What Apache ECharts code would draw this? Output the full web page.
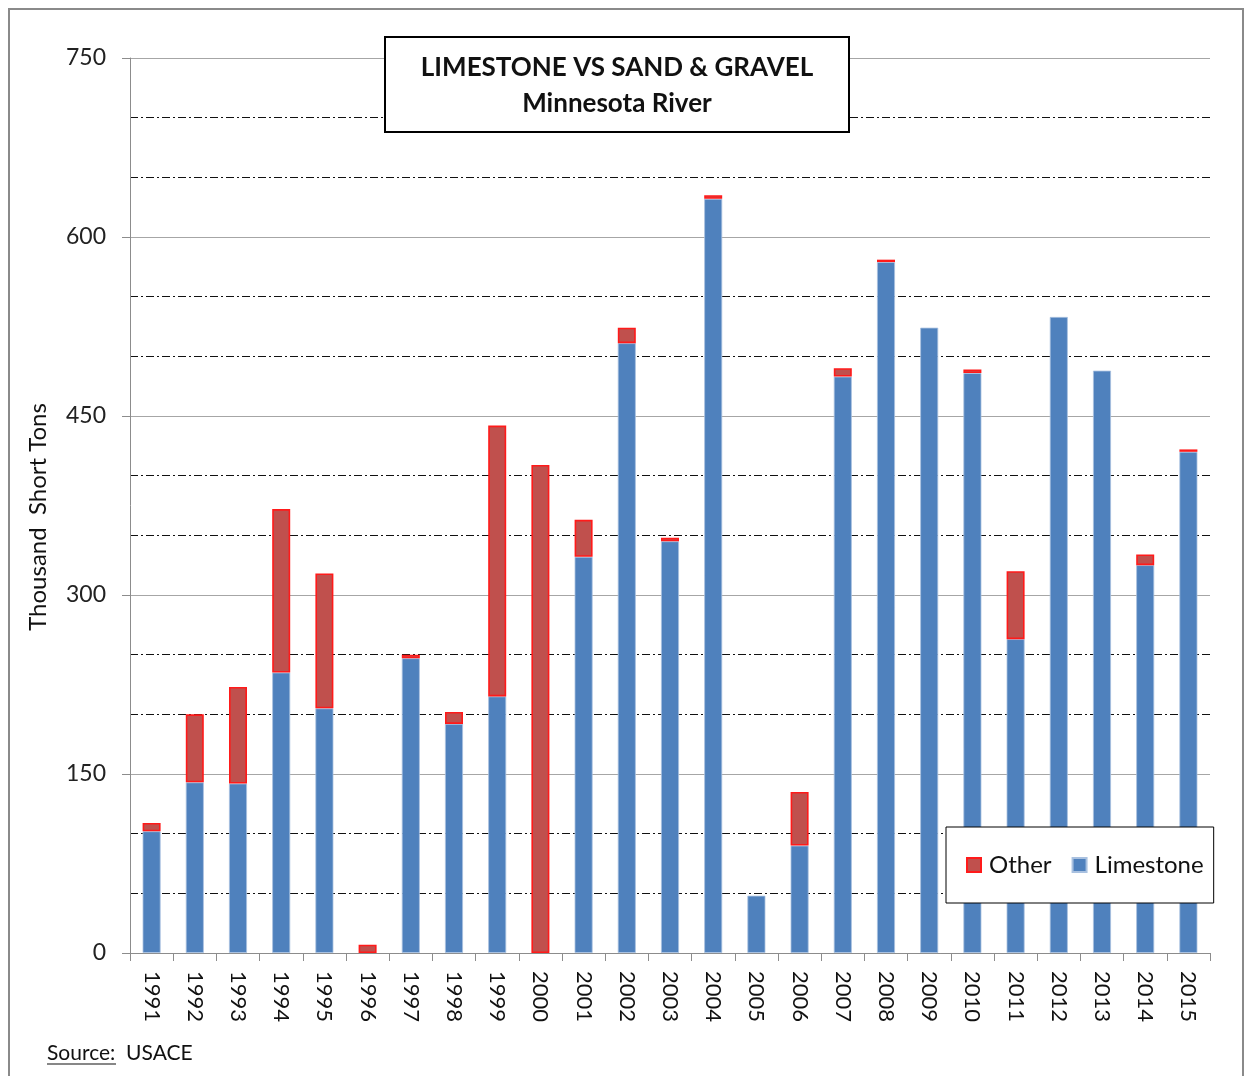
<!DOCTYPE html>
<html>
<head>
<meta charset="utf-8">
<script src="https://cdn.jsdelivr.net/npm/echarts@6/dist/echarts.min.js"></script>
<style>
  html, body { margin: 0; padding: 0; background: #fff; }
  #chart { width: 1245px; height: 1076px; }
</style>
</head>
<body>
<div id="chart"></div>
<script>
// categories and values (thousand short tons)
const years = ['1991', '1992', '1993', '1994', '1995', '1996', '1997', '1998', '1999', '2000',
  '2001', '2002', '2003', '2004', '2005', '2006', '2007', '2008', '2009', '2010',
  '2011', '2012', '2013', '2014', '2015']
const limestone = [102, 143, 142, 235, 205, 0, 247, 192, 215, 0,
  332, 511, 345, 632, 48, 90, 483, 579, 524, 486,
  263, 533, 488, 325, 420]
const other = [7, 57, 81, 137, 113, 7, 3, 10, 227, 409,
  31, 13, 3, 3, 0, 45, 7, 2, 0, 3,
  57, 0, 0, 9, 2]
const yTicks = [0, 150, 300, 450, 600, 750]

const font = 'Lato, "Open Sans", sans-serif'
const chart = echarts.init(document.getElementById('chart'))

// empty values are simply not drawn
const clean = arr => arr.map(v => (v ? v : '-'))

const option = {
  animation: false,
  textStyle: { fontFamily: font },
  grid: { left: 130, right: 35, top: 58, bottom: 123 },
  legend: {
    data: ['Other', 'Limestone'],
    icon: 'rect',
    left: 946,
    top: 827,
    padding: [26, 10, 26, 20],
    itemWidth: 14,
    itemHeight: 14,
    itemGap: 20,
    backgroundColor: '#fff',
    borderColor: '#000',
    borderWidth: 1,
    textStyle: { fontFamily: font, fontSize: 24, color: '#111', padding: [0, 0, 0, 3] }
  },
  xAxis: {
    type: 'category',
    data: years,
    axisLine: { lineStyle: { color: '#8c8c8c', width: 1 } },
    axisTick: { show: true, interval: 0, length: 8, lineStyle: { color: '#8c8c8c' } },
    axisLabel: { rotate: -90, interval: 0, margin: 18, fontSize: 22, color: '#111', fontFamily: font }
  },
  yAxis: {
    type: 'value',
    min: yTicks[0],
    max: yTicks[yTicks.length - 1],
    interval: 150,
    axisLine: { show: true, lineStyle: { color: '#8c8c8c', width: 1 } },
    axisTick: { show: true, length: 8, lineStyle: { color: '#8c8c8c' } },
    axisLabel: { margin: 24, fontSize: 23, color: '#222', fontFamily: font },
    splitLine: { lineStyle: { color: '#a6a6a6', width: 1.2 } },
    minorTick: { show: false, splitNumber: 3 },
    minorSplitLine: { show: true, lineStyle: { color: '#111', width: 1, type: [8, 3, 2, 3] } }
  },
  series: [
    {
      name: 'Limestone',
      type: 'bar',
      stack: 'total',
      barWidth: 18,
      data: clean(limestone),
      itemStyle: { color: '#4F81BD', borderColor: '#a9c1e0', borderWidth: 0.8 }
    },
    {
      name: 'Other',
      type: 'bar',
      stack: 'total',
      barWidth: 18,
      data: clean(other),
      itemStyle: { color: '#C0504D', borderColor: '#ff1a1a', borderWidth: 1.6 }
    }
  ],
  graphic: [
    // outer frame
    {
      type: 'rect',
      shape: { x: 9, y: 9, width: 1234, height: 1090 },
      style: { fill: 'none', stroke: '#8a8a8a', lineWidth: 2 },
      silent: true
    },
    // title box
    {
      type: 'rect',
      shape: { x: 385, y: 37, width: 464, height: 95 },
      style: { fill: '#fff', stroke: '#000', lineWidth: 2 },
      z: 100
    },
    {
      type: 'text',
      x: 617, y: 68, z: 101,
      style: {
        text: 'LIMESTONE VS SAND & GRAVEL', fontFamily: font, fontWeight: 'bold',
        fontSize: 26, fill: '#111', align: 'center', verticalAlign: 'middle'
      }
    },
    {
      type: 'text',
      x: 617, y: 104, z: 101,
      style: {
        text: 'Minnesota River', fontFamily: font, fontWeight: 'bold',
        fontSize: 26, fill: '#111', align: 'center', verticalAlign: 'middle'
      }
    },
    // y axis title
    {
      type: 'text',
      x: 38, y: 517, rotation: Math.PI / 2,
      style: {
        text: 'Thousand  Short Tons', fontFamily: font, fontSize: 24, fill: '#111',
        align: 'center', verticalAlign: 'middle'
      }
    },
    // source note
    {
      type: 'text',
      x: 47, y: 1053,
      style: {
        text: 'Source:  USACE', fontFamily: font, fontSize: 21, fill: '#111',
        align: 'left', verticalAlign: 'middle'
      }
    },
    {
      type: 'line',
      shape: { x1: 47, y1: 1064, x2: 116, y2: 1064 },
      style: { stroke: '#111', lineWidth: 1.2 }
    }
  ]
}

chart.setOption(option)
</script>
</body>
</html>
